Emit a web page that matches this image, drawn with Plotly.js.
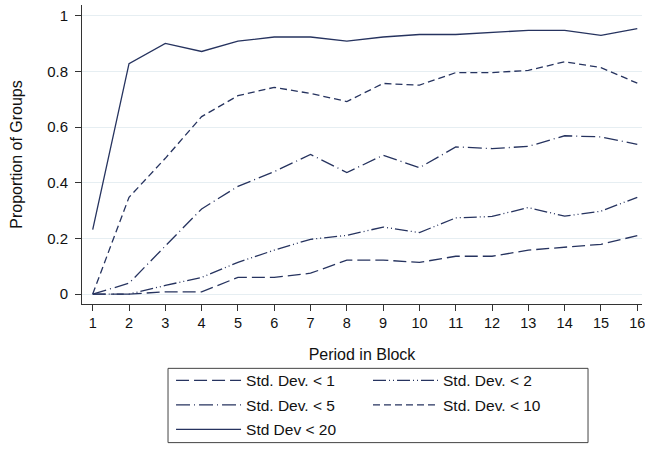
<!DOCTYPE html>
<html>
<head>
<meta charset="utf-8">
<script src="https://cdn.plot.ly/plotly-3.0.1.min.js"></script>
<style>
  html, body { margin: 0; padding: 0; background: #ffffff; }
  #chart { width: 645px; height: 450px; }
</style>
</head>
<body>
<div id="chart"></div>
<script>
// ---- Data ----
const periods = [1, 2, 3, 4, 5, 6, 7, 8, 9, 10, 11, 12, 13, 14, 15, 16];
const xTickLabels = ["1","2","3","4","5","6","7","8","9","10","11","12","13","14","15","16"];
const yTickValues = [0, 0.2, 0.4, 0.6, 0.8, 1];
const yTickLabels = ["0", "0.2", "0.4", "0.6", "0.8", "1"];

const sd1  = [0, 0, 0.008, 0.008, 0.06, 0.06, 0.075, 0.122, 0.122, 0.114, 0.136, 0.136, 0.158, 0.168, 0.179, 0.21];
const sd2  = [0, 0, 0.031, 0.06, 0.114, 0.158, 0.197, 0.211, 0.241, 0.221, 0.274, 0.279, 0.311, 0.28, 0.298, 0.348];
const sd5  = [0, 0.039, 0.173, 0.306, 0.387, 0.44, 0.502, 0.437, 0.499, 0.454, 0.529, 0.523, 0.531, 0.569, 0.565, 0.538];
const sd10 = [0, 0.348, 0.488, 0.638, 0.713, 0.743, 0.721, 0.692, 0.757, 0.751, 0.796, 0.796, 0.804, 0.835, 0.814, 0.758];
const sd20 = [0.232, 0.828, 0.901, 0.872, 0.909, 0.924, 0.924, 0.909, 0.924, 0.933, 0.933, 0.94, 0.948, 0.948, 0.93, 0.954];

const seriesNames = ["Std. Dev. < 1", "Std. Dev. < 2", "Std. Dev. < 5", "Std. Dev. < 10", "Std Dev < 20"];

// ---- Styling ----
const lineColor = "#26335f";
const fontFamily = "'Liberation Sans', Arial, Helvetica, sans-serif";

function mk(y, name, dash, legend, group) {
  return {
    x: periods, y: y, name: name, type: "scatter", mode: "lines",
    line: { color: lineColor, width: 1.3, dash: dash },
    legend: legend, legendgroup: group, hoverinfo: "skip"
  };
}

const traces = [
  mk(sd1,  seriesNames[0], "13px,5px", "legend", "a"),
  mk(sd2,  seriesNames[1], "13px,3px,1px,3px,1px,3px", "legend2", "b"),
  mk(sd5,  seriesNames[2], "14px,4px,1px,4px", "legend", "c"),
  mk(sd10, seriesNames[3], "7px,4px", "legend2", "d"),
  mk(sd20, seriesNames[4], "solid", "legend", "e")
];

const legendCommon = {
  orientation: "v", xanchor: "left", yanchor: "top",
  bgcolor: "rgba(0,0,0,0)", borderwidth: 0,
  font: { family: fontFamily, size: 15.5, color: "#111" },
  itemwidth: 65, traceorder: "grouped", tracegroupgap: 1.3,
  itemclick: false, itemdoubleclick: false
};

const layout = {
  width: 645, height: 450,
  margin: { l: 82, r: 3, t: 5, b: 143 },
  paper_bgcolor: "#ffffff", plot_bgcolor: "#ffffff",
  font: { family: fontFamily, size: 14, color: "#111" },
  showlegend: true,
  legend: Object.assign({}, legendCommon, { x: 0.159, y: -0.2 }),
  legend2: Object.assign({}, legendCommon, { x: 0.5107, y: -0.2 }),
  xaxis: {
    range: [0.705, 16.13],
    tickmode: "array", tickvals: periods, ticktext: xTickLabels,
    ticks: "outside", ticklen: 6, tickwidth: 1, tickcolor: "#333",
    showline: true, linecolor: "#333", linewidth: 1,
    showgrid: false, zeroline: false, ticklabeloverflow: "allow",
    tickfont: { family: fontFamily, size: 14.5, color: "#111" },
    title: { text: "Period in Block", font: { family: fontFamily, size: 16, color: "#111" }, standoff: 18 },
    automargin: false, fixedrange: true
  },
  yaxis: {
    range: [-0.0356, 1.039],
    tickmode: "array", tickvals: yTickValues, ticktext: yTickLabels,
    ticks: "outside", ticklen: 6, tickwidth: 1, tickcolor: "#333",
    showline: true, linecolor: "#333", linewidth: 1,
    showgrid: true, gridcolor: "#e6eef2", gridwidth: 1, zeroline: false,
    tickfont: { family: fontFamily, size: 15, color: "#111" },
    ticklabelstandoff: 4,
    title: { text: "Proportion of Groups", font: { family: fontFamily, size: 16, color: "#111" }, standoff: 20 },
    automargin: false, fixedrange: true
  },
  shapes: [{
    type: "rect", xref: "paper", yref: "paper",
    x0: 0.1536, x1: 0.9036, y0: -0.4636, y1: -0.2152,
    line: { color: "#444", width: 1 }, fillcolor: "rgba(0,0,0,0)"
  }]
};

Plotly.newPlot("chart", traces, layout, { displayModeBar: false, staticPlot: true });
</script>
</body>
</html>
